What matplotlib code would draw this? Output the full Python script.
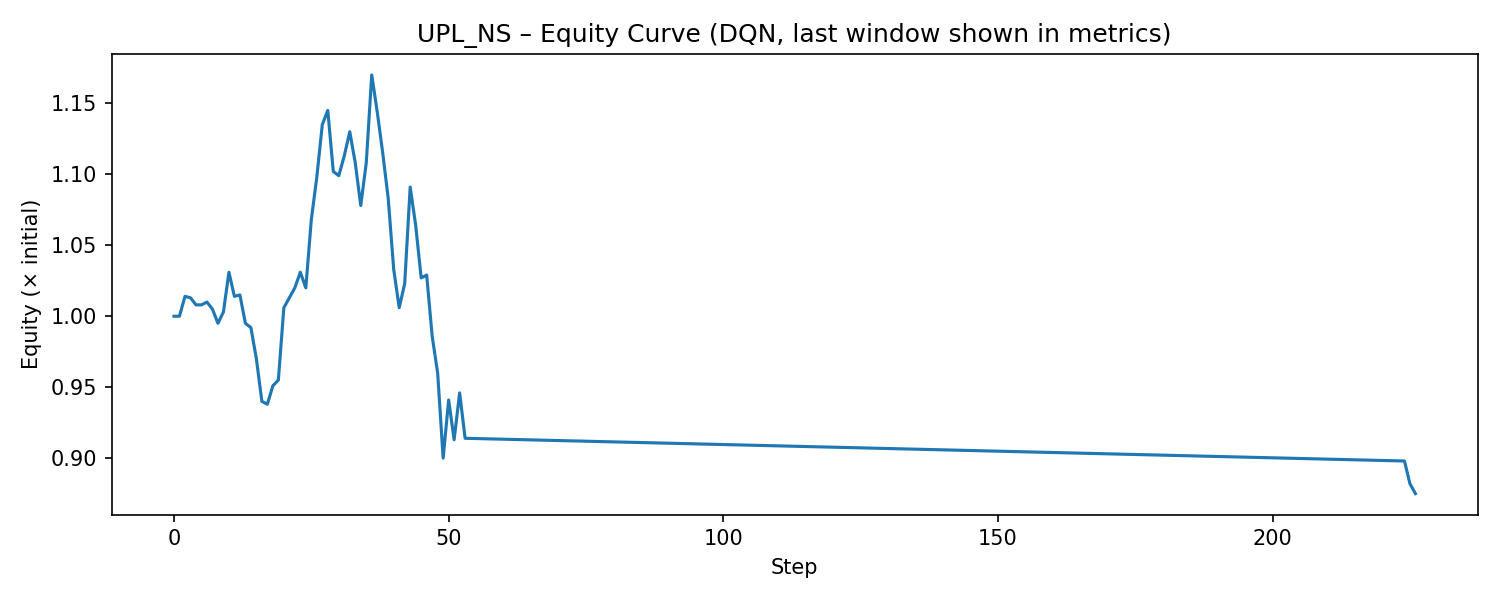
import matplotlib.pyplot as plt

steps = list(range(0, 54)) + [224, 225, 226]
equity = [1.000, 1.000, 1.014, 1.013, 1.008, 1.008, 1.010, 1.005, 0.995, 1.003,
          1.031, 1.014, 1.015, 0.995, 0.992, 0.970, 0.940, 0.938, 0.951, 0.955,
          1.006, 1.013, 1.020, 1.031, 1.020, 1.068, 1.098, 1.135, 1.145, 1.102,
          1.099, 1.113, 1.130, 1.108, 1.078, 1.108, 1.170, 1.144, 1.115, 1.083,
          1.033, 1.006, 1.023, 1.091, 1.064, 1.027, 1.029, 0.986, 0.960, 0.900,
          0.941, 0.913, 0.946, 0.914, 0.898, 0.882, 0.875]

fig, ax = plt.subplots(figsize=(10, 4), dpi=150)
ax.plot(steps, equity, color="#1f77b4")
ax.set_title("UPL_NS – Equity Curve (DQN, last window shown in metrics)")
ax.set_xlabel("Step")
ax.set_ylabel("Equity (× initial)")
fig.tight_layout()
fig.savefig("out.png")
